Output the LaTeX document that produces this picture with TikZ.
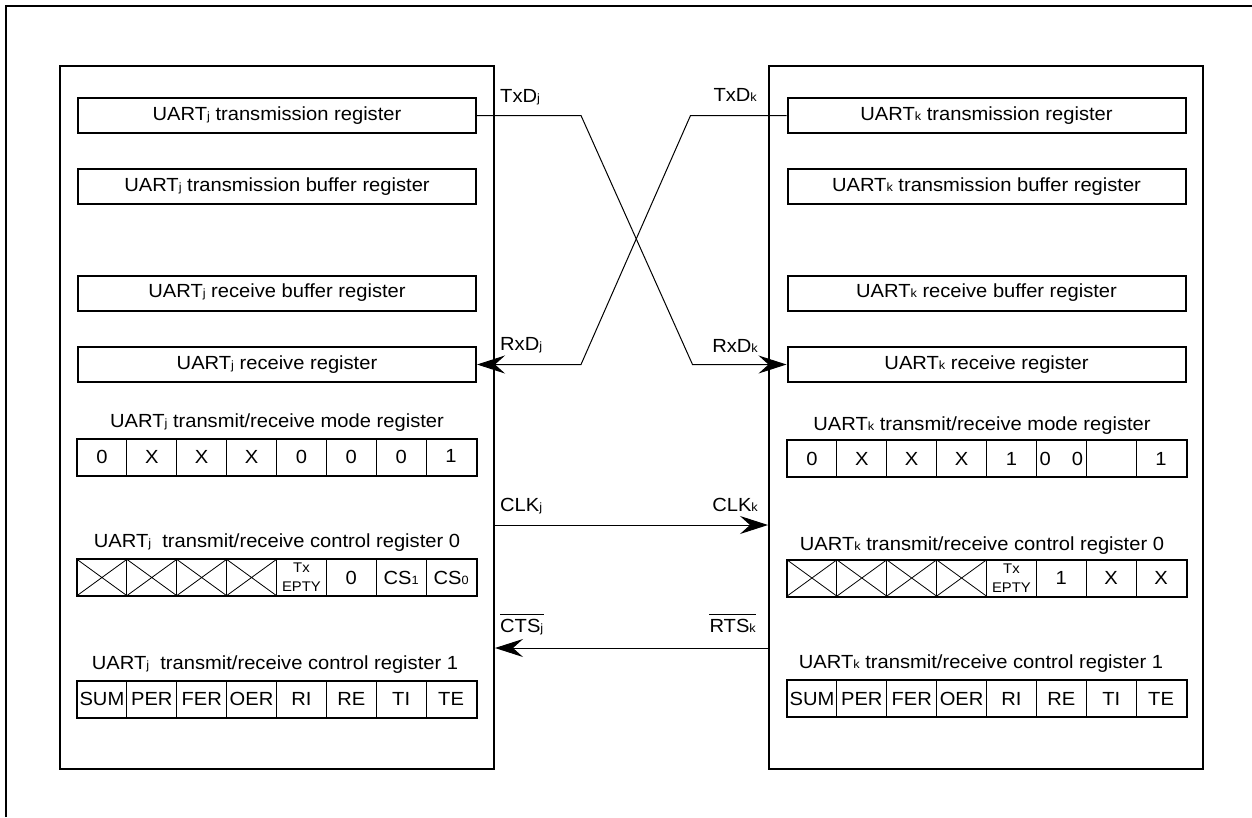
\documentclass[tikz,border=0pt]{standalone}
\usepackage{fontspec}
\setmainfont{Liberation Sans}[FakeStretch=1.06]
\usetikzlibrary{arrows.meta}
\newcommand{\regsub}[1]{{\fontsize{12}{12}\selectfont #1}}

\begin{document}
\begin{tikzpicture}[x=1pt, y=-1pt,
    font=\fontsize{19}{22}\selectfont,
    bigbox/.style={draw, line width=2pt, minimum width=434pt, minimum height=703pt, inner sep=0pt},
    reg/.style={draw, line width=2pt, minimum width=398pt, minimum height=35pt, inner sep=0pt},
    cell/.style={draw, line width=1pt, minimum width=49.875pt, minimum height=36pt, inner sep=0pt},
    lbl/.style={inner sep=0pt},
    sig/.style={line width=1pt},
    tip/.style={-{Stealth[length=28pt, width=18pt, inset=10pt]}}]
    \useasboundingbox (0,0) rectangle (1252,817);
    \draw[line width=2.5pt] (6,817) -- (6,6) -- (1252,6);

    % the two UARTs
    \node[bigbox] (uartj) at (277,417.5) {};
    \node[bigbox] (uartk) at (986,417.5) {};

    \node[reg] (txj) at (277,115.5) {UART\regsub{j} transmission register};
    \node[reg] (tbj) at (277,186.5) {UART\regsub{j} transmission buffer register};
    \node[reg] (rbj) at (277,293) {UART\regsub{j} receive buffer register};
    \node[reg] (rxj) at (277,364.5) {UART\regsub{j} receive register};

    \node[reg] (txk) at (986.5,115.5) {UART\regsub{k} transmission register};
    \node[reg] (tbk) at (986.5,186.5) {UART\regsub{k} transmission buffer register};
    \node[reg] (rbk) at (986.5,293) {UART\regsub{k} receive buffer register};
    \node[reg] (rxk) at (986.5,364.5) {UART\regsub{k} receive register};

    % register titles
    \node[lbl, anchor=base] (mjt) at (277,427) {UART\regsub{j} transmit/receive mode register};
    \node[lbl, anchor=base] (c0jt) at (277,547) {UART\regsub{j}\ \ transmit/receive control register 0};
    \node[lbl, anchor=base] (c1jt) at (275,669) {UART\regsub{j}\ \ transmit/receive control register 1};
    \node[lbl, anchor=base] (mkt) at (982,430) {UART\regsub{k} transmit/receive mode register};
    \node[lbl, anchor=base] (c0kt) at (982,550) {UART\regsub{k} transmit/receive control register 0};
    \node[lbl, anchor=base] (c1kt) at (981,668) {UART\regsub{k} transmit/receive control register 1};

    % bit cells of UARTj
    \foreach \v [count=\i] in {0,X,X,X,0,0,0,\raisebox{3pt}{1}}
        \node[cell] (mj\i) at ({77+49.875*(\i-0.5)},457) {\v};
    \foreach \v [count=\i] in {,,,,{},0,CS\regsub{1},CS\regsub{0}}
        \node[cell] (c0j\i) at ({77+49.875*(\i-0.5)},577.5) {\v};
    \foreach \v [count=\i] in {SUM,PER,FER,OER,RI,RE,TI,TE}
        \node[cell] (c1j\i) at ({77+49.875*(\i-0.5)},699) {\v};

    % bit cells of UARTk
    \foreach \v [count=\i] in {0,X,X,X,1,{0\hspace{21pt}0},{},1}
        \node[cell] (mk\i) at ({787+49.875*(\i-0.5)},458.5) {\v};
    \foreach \v [count=\i] in {,,,,{},1,X,X}
        \node[cell] (c0k\i) at ({787+49.875*(\i-0.5)},578) {\v};
    \foreach \v [count=\i] in {SUM,PER,FER,OER,RI,RE,TI,TE}
        \node[cell] (c1k\i) at ({787+49.875*(\i-0.5)},698.5) {\v};

    \node[lbl, align=center, font=\fontsize{14}{19}\selectfont] at (c0j5) {Tx\\EPTY};
    \node[lbl, align=center, font=\fontsize{14}{19}\selectfont] at (c0k5) {Tx\\EPTY};

    % unused bits
    \foreach \i in {1,...,4} {
        \draw[line width=0.8pt] (c0j\i.north west) -- (c0j\i.south east)
            (c0j\i.south west) -- (c0j\i.north east);
        \draw[line width=0.8pt] (c0k\i.north west) -- (c0k\i.south east)
            (c0k\i.south west) -- (c0k\i.north east);
    }

    \foreach \r in {mj,c0j,c1j,mk,c0k,c1k}
        \draw[line width=2pt] (\r1.north west) rectangle (\r8.south east);

    % signal lines
    \draw[sig, tip] (txj.east) -- ++(104,0) -- ([xshift=-94pt]rxk.west) -- (rxk.west);
    \draw[sig, tip] (txk.west) -- ++(-96,0) -- ([xshift=104pt]rxj.east) -- (rxj.east);
    \draw[sig, tip] ([yshift=-107.5pt]uartj.east) -- ([yshift=-107.5pt]uartk.west);
    \draw[sig, tip] ([yshift=-230.5pt]uartk.west) -- ([yshift=-230.5pt]uartj.east);

    \node[lbl, anchor=base west] (txdj) at (500,102) {TxD\regsub{j}};
    \node[lbl, anchor=base east] (txdk) at (757,101) {TxD\regsub{k}};
    \node[lbl, anchor=base west] (rxdj) at (500,350) {RxD\regsub{j}};
    \node[lbl, anchor=base east] (rxdk) at (758,352) {RxD\regsub{k}};
    \node[lbl, anchor=base west] (clkj) at (500,511) {CLK\regsub{j}};
    \node[lbl, anchor=base east] (clkk) at (758,511) {CLK\regsub{k}};
    \node[lbl, anchor=base west] (ctsj) at (500,632) {CTS\regsub{j}};
    \node[lbl, anchor=base east] (rtsk) at (756,632) {RTS\regsub{k}};
    \draw[sig] ([yshift=4pt]ctsj.north west) -- ([yshift=4pt]ctsj.north east);
    \draw[sig] ([yshift=4pt]rtsk.north west) -- ([yshift=4pt]rtsk.north east);
\end{tikzpicture}
\end{document}
